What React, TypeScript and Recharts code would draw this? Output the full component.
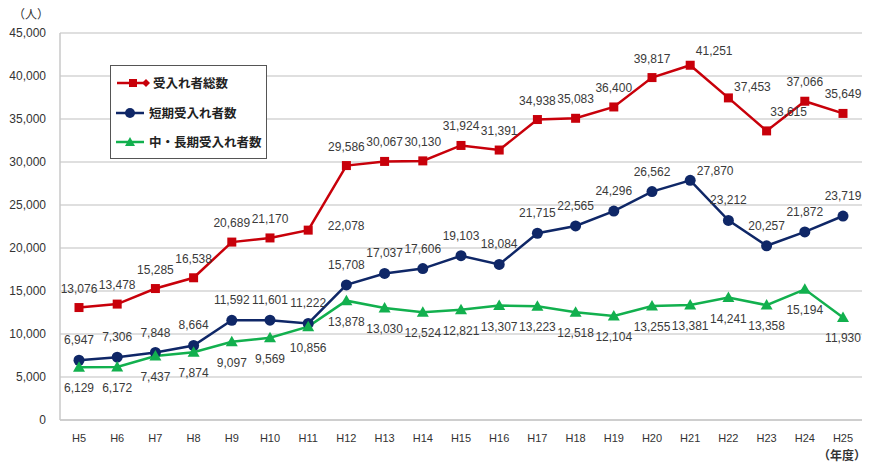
import React from "react";
import { LineChart, Line, XAxis, YAxis, CartesianGrid, LabelList } from "recharts";

const years = ["H5","H6","H7","H8","H9","H10","H11","H12","H13","H14","H15","H16","H17","H18","H19","H20","H21","H22","H23","H24","H25"];
const totalAccepted = [13076,13478,15285,16538,20689,21170,22078,29586,30067,30130,31924,31391,34938,35083,36400,39817,41251,37453,33615,37066,35649];
const shortTerm = [6947,7306,7848,8664,11592,11601,11222,15708,17037,17606,19103,18084,21715,22565,24296,26562,27870,23212,20257,21872,23719];
const midLongTerm = [6129,6172,7437,7874,9097,9569,10856,13878,13030,12524,12821,13307,13223,12518,12104,13255,13381,14241,13358,15194,11930];
const yTicks = [0,5000,10000,15000,20000,25000,30000,35000,40000,45000];

const seriesNames = { total: "受入れ者総数", short: "短期受入れ者数", mid: "中・長期受入れ者数" };

const data = years.map((y, i) => ({ year: y, total: totalAccepted[i], short: shortTerm[i], mid: midLongTerm[i] }));

const RED = "#c8000a";
const NAVY = "#0f2767";
const GREEN = "#12b04e";
const LABEL_FONT = "'Liberation Sans', Arial, sans-serif";
const fmt = (v: number) => v.toLocaleString("en-US");

type Off = { dx: number; dy: number };
const makeLabel = (def: Off, overrides: Record<number, Off>) => (props: any) => {
  const { x, y, value, index } = props;
  const o = overrides[index] || def;
  return (
    <text x={x + o.dx} y={y + o.dy} textAnchor="middle" fontSize={12} fill="#3a3a3a" fontFamily={LABEL_FONT}>
      {fmt(value)}
    </text>
  );
};

const redLabel = makeLabel({ dx: 0, dy: -15 }, {
  6: { dx: 38, dy: 0 },
  16: { dx: 24, dy: -10 },
  17: { dx: 24, dy: -7 },
  18: { dx: 22, dy: -15 },
});
const navyLabel = makeLabel({ dx: 0, dy: -16 }, {
  16: { dx: 25, dy: -5 },
});
const greenLabel = makeLabel({ dx: 0, dy: 25 }, {});

const SquareDot = (props: any) => {
  const { cx, cy } = props;
  if (cx == null || cy == null) return null;
  return <rect x={cx - 4.5} y={cy - 4.5} width={9} height={9} fill={RED} />;
};
const CircleDot = (props: any) => {
  const { cx, cy } = props;
  if (cx == null || cy == null) return null;
  return <circle cx={cx} cy={cy} r={5.5} fill={NAVY} />;
};
const TriDot = (props: any) => {
  const { cx, cy } = props;
  if (cx == null || cy == null) return null;
  return <polygon points={`${cx},${cy - 6} ${cx + 6},${cy + 4.5} ${cx - 6},${cy + 4.5}`} fill={GREEN} />;
};

const LegendBox = () => (
  <div style={{ position: "absolute", left: 110, top: 65, width: 157, height: 94, border: "1px solid #555", background: "#fff", boxSizing: "border-box" }}>
    <svg width={157} height={94} style={{ position: "absolute", left: 0, top: 0 }}>
      <line x1={6} y1={17} x2={35} y2={17} stroke={RED} strokeWidth={2.5} />
      <rect x={18} y={13} width={8} height={8} fill={RED} />
      <polygon points="35,13 39,17 35,21 31,17" fill={RED} />
      <text x={42} y={22} fontSize={12.5} fontWeight={600} fill="#222" fontFamily="'Noto Sans CJK JP', sans-serif">{seriesNames.total}</text>
      <line x1={5} y1={47} x2={33} y2={47} stroke={NAVY} strokeWidth={2.5} />
      <circle cx={19} cy={47} r={5} fill={NAVY} />
      <text x={38} y={52} fontSize={12.5} fontWeight={600} fill="#222" fontFamily="'Noto Sans CJK JP', sans-serif">{seriesNames.short}</text>
      <line x1={5} y1={76} x2={33} y2={76} stroke={GREEN} strokeWidth={2.5} />
      <polygon points="19,71 24,80 14,80" fill={GREEN} />
      <text x={38} y={81} fontSize={12.5} fontWeight={600} fill="#222" fontFamily="'Noto Sans CJK JP', sans-serif">{seriesNames.mid}</text>
    </svg>
  </div>
);

export default function App() {
  return (
    <div style={{ position: "absolute", left: 0, top: 0, width: 869, height: 468, background: "#fff", overflow: "hidden" }}>
      <LineChart width={869} height={468} data={data} margin={{ top: 33, right: 7, bottom: 18, left: 0 }}>
        <CartesianGrid vertical={false} stroke="#d4d4d4" strokeWidth={1.3} />
        <XAxis
          dataKey="year"
          height={30}
          padding={{ left: 19, right: 19 }}
          axisLine={{ stroke: "#c8c8c8", strokeWidth: 1.5 }}
          tickLine={false}
          tickSize={0}
          tickMargin={14}
          tick={{ fontSize: 11, fill: "#333", fontFamily: LABEL_FONT }}
          interval={0}
        />
        <YAxis
          width={60}
          domain={[0, 45000]}
          ticks={yTicks}
          tickFormatter={fmt}
          axisLine={{ stroke: "#c8c8c8", strokeWidth: 1.5 }}
          tickLine={false}
          tickSize={0}
          tickMargin={14}
          tick={{ fontSize: 12, fill: "#333", fontFamily: LABEL_FONT }}
          interval={0}
        />
        <Line type="linear" dataKey="total" name={seriesNames.total} stroke={RED} strokeWidth={2.5} dot={<SquareDot />} activeDot={false} isAnimationActive={false}>
          <LabelList dataKey="total" content={redLabel} />
        </Line>
        <Line type="linear" dataKey="short" name={seriesNames.short} stroke={NAVY} strokeWidth={2.5} dot={<CircleDot />} activeDot={false} isAnimationActive={false}>
          <LabelList dataKey="short" content={navyLabel} />
        </Line>
        <Line type="linear" dataKey="mid" name={seriesNames.mid} stroke={GREEN} strokeWidth={2.5} dot={<TriDot />} activeDot={false} isAnimationActive={false}>
          <LabelList dataKey="mid" content={greenLabel} />
        </Line>
      </LineChart>
      <div style={{ position: "absolute", left: 13, top: 5, fontSize: 12, color: "#333", fontFamily: "'Noto Sans CJK JP', sans-serif" }}>（人）</div>
      <div style={{ position: "absolute", left: 818, top: 446, fontSize: 12, fontWeight: 600, color: "#333", fontFamily: "'Noto Sans CJK JP', sans-serif" }}>（年度）</div>
      <LegendBox />
    </div>
  );
}
